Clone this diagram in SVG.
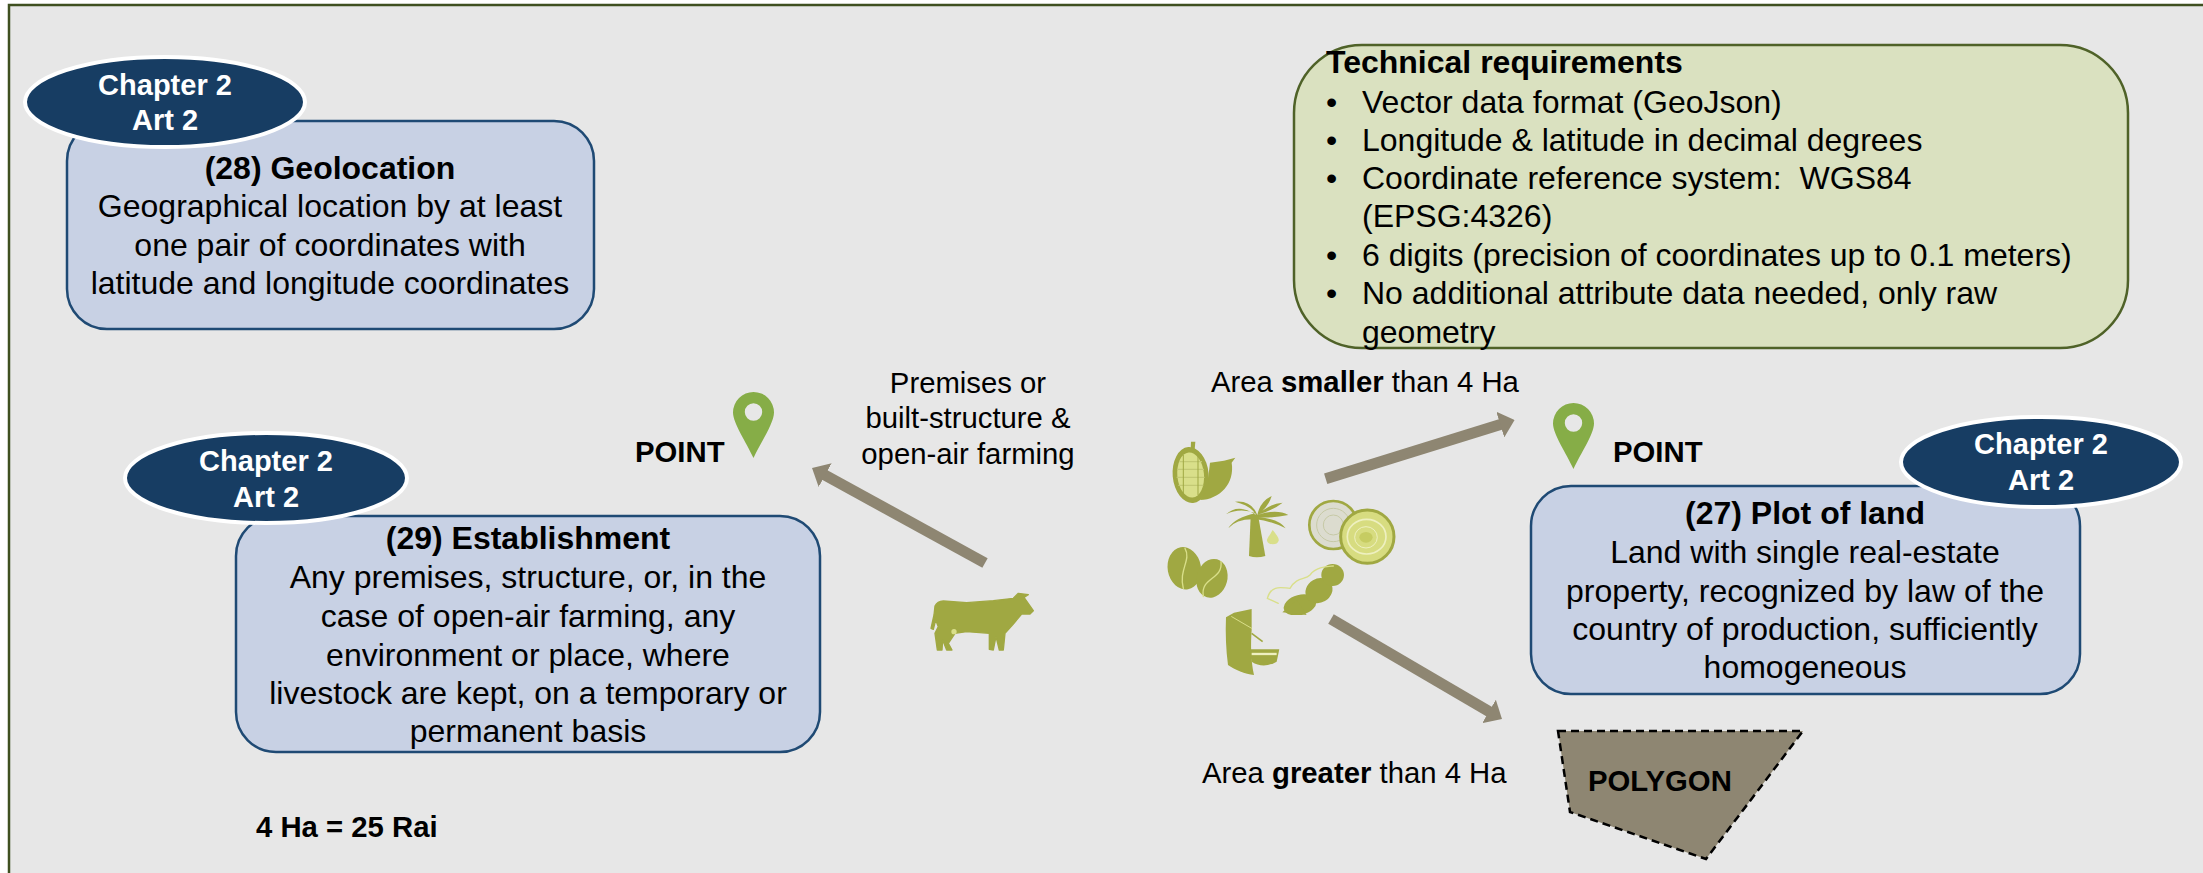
<svg xmlns="http://www.w3.org/2000/svg" width="2203" height="873" viewBox="0 0 2203 873">
<style>
text{font-family:"Liberation Sans",Arial,sans-serif;fill:#000}
.t{font-size:32px}
.m{text-anchor:middle}
.b{font-weight:bold}
.l{font-size:29.3px}
.e{font-size:29px;font-weight:bold;fill:#fff;text-anchor:middle}
.box{fill:#c8d1e4;stroke:#1f4a74;stroke-width:2.5}
.oval{fill:#173d63;stroke:#fff;stroke-width:4}
.ol{fill:#a0a842}
.li{fill:#d9df8a}
.ls{fill:none;stroke:#d9df8a;stroke-width:4;stroke-linecap:round}
.arrow{stroke:#8e8672;stroke-width:11;fill:none;marker-end:url(#head)}
</style>
<defs>
<marker id="head" viewBox="0 0 15 27" refX="1" refY="13.5" markerUnits="userSpaceOnUse" markerWidth="15" markerHeight="27" orient="auto"><path d="M0,0L15,13.5L0,27Z" fill="#8e8672"/></marker>
<path id="pin" fill="#86ad47" fill-rule="evenodd" d="M0,20.5A20.5,20.5 0 0 1 41,20.5C41,31 28,50 20.5,66C13,50 0,31 0,20.5ZM29.2,20A8.7,8.7 0 1 0 11.8,20A8.7,8.7 0 1 0 29.2,20Z"/>
<clipPath id="soyclip"><rect x="430" y="420" width="242" height="165"/></clipPath>
</defs>
<rect x="9" y="5" width="2200" height="873" fill="#e7e7e7" stroke="#3f5020" stroke-width="2.5"/>

<g id="connectors">
<line class="arrow" x1="985" y1="563" x2="824.3" y2="474.7"/>
<line class="arrow" x1="1325.7" y1="478.7" x2="1501.2" y2="424.2"/>
<line class="arrow" x1="1331" y1="619" x2="1489.9" y2="711.9"/>
</g>

<g id="node-geolocation">
<rect class="box" x="67" y="121" width="527" height="208" rx="40"/>
<ellipse class="oval" cx="165" cy="102" rx="140" ry="45"/>
<text class="e" x="165" y="95">Chapter 2</text>
<text class="e" x="165" y="130">Art 2</text>
<text class="t m b" x="330" y="179">(28) Geolocation</text>
<text class="t m" x="330" y="217">Geographical location by at least</text>
<text class="t m" x="330" y="256">one pair of coordinates with</text>
<text class="t m" x="330" y="294">latitude and longitude coordinates</text>
</g>

<g id="node-establishment">
<rect class="box" x="236" y="516" width="584" height="236" rx="40"/>
<ellipse class="oval" cx="266" cy="478" rx="141" ry="45"/>
<text class="e" x="266" y="471">Chapter 2</text>
<text class="e" x="266" y="507">Art 2</text>
<text class="t m b" x="528" y="549">(29) Establishment</text>
<text class="t m" x="528" y="588">Any premises, structure, or, in the</text>
<text class="t m" x="528" y="627">case of open-air farming, any</text>
<text class="t m" x="528" y="666">environment or place, where</text>
<text class="t m" x="528" y="704">livestock are kept, on a temporary or</text>
<text class="t m" x="528" y="742">permanent basis</text>
</g>

<g id="node-plot">
<rect class="box" x="1531" y="486" width="549" height="208" rx="40"/>
<ellipse class="oval" cx="2041" cy="462" rx="140" ry="45"/>
<text class="e" x="2041" y="454">Chapter 2</text>
<text class="e" x="2041" y="490">Art 2</text>
<text class="t m b" x="1805" y="524">(27) Plot of land</text>
<text class="t m" x="1805" y="563">Land with single real-estate</text>
<text class="t m" x="1805" y="602">property, recognized by law of the</text>
<text class="t m" x="1805" y="640">country of production, sufficiently</text>
<text class="t m" x="1805" y="678">homogeneous</text>
</g>

<g id="node-technical">
<rect x="1294" y="45" width="834" height="303" rx="68" fill="#dae1c0" stroke="#4f6228" stroke-width="2.5"/>
<text class="t b" x="1326" y="73">Technical requirements</text>
<text class="t" x="1326" y="113">•</text><text class="t" x="1362" y="113">Vector data format (GeoJson)</text>
<text class="t" x="1326" y="151">•</text><text class="t" x="1362" y="151">Longitude &amp; latitude in decimal degrees</text>
<text class="t" x="1326" y="189">•</text><text class="t" x="1362" y="189" xml:space="preserve">Coordinate reference system:  WGS84</text>
<text class="t" x="1362" y="227">(EPSG:4326)</text>
<text class="t" x="1326" y="266">•</text><text class="t" x="1362" y="266">6 digits (precision of coordinates up to 0.1 meters)</text>
<text class="t" x="1326" y="304">•</text><text class="t" x="1362" y="304">No additional attribute data needed, only raw</text>
<text class="t" x="1362" y="343">geometry</text>
</g>

<g id="node-point-left">
<use href="#pin" x="733" y="392"/>
<text class="l b" x="635" y="462">POINT</text>
</g>
<g id="node-point-right">
<use href="#pin" x="1553" y="403"/>
<text class="l b" x="1613" y="462">POINT</text>
</g>
<g id="node-polygon">
<polygon points="1558,731 1803,731 1706,859 1570,812" fill="#8e8672" stroke="#000" stroke-width="2.5" stroke-dasharray="8 5"/>
<text class="l b" x="1588" y="791">POLYGON</text>
</g>

<g id="labels">
<text class="l m" x="968" y="393">Premises or</text>
<text class="l m" x="968" y="428">built-structure &amp;</text>
<text class="l m" x="968" y="464">open-air farming</text>
<text class="l" x="1211" y="392">Area <tspan class="b">smaller</tspan> than 4 Ha</text>
<text class="l" x="1202" y="783">Area <tspan class="b">greater</tspan> than 4 Ha</text>
<text class="l b" x="256" y="837">4 Ha = 25 Rai</text>
</g>

<g id="icon-cow" transform="translate(880,520) scale(.3333)">
<path class="ol" stroke="#a0a842" stroke-width="4" stroke-linejoin="round" d="M153,325L162,285L165,258Q172,244 190,243L260,248L340,242L400,235L415,220L445,224L432,232L460,272L450,282L425,282L400,312L375,340L370,390L358,390L348,350L340,390L328,388L328,340L260,335L225,340L205,370L216,390L200,390L188,360L186,390L172,390L165,340L175,320L167,300L160,328Z"/>
<circle class="li" cx="222" cy="335" r="8"/>
</g>

<g id="icon-crops" transform="translate(1120,420) scale(.3333)">
<path class="ol" d="M213,65L226,65L224,90L212,90Z"/>
<path class="ol" d="M240,240C300,238 345,190 335,128L346,113L312,122L270,128C265,170 262,210 240,240Z"/>
<ellipse class="ol" cx="212" cy="165" rx="54" ry="84" transform="rotate(-5 212 165)"/>
<ellipse class="li" cx="212" cy="165" rx="40" ry="68" transform="rotate(-5 212 165)"/>
<path d="M178,125H246M172,148H252M170,172H254M175,196H250" stroke="#c3c974" stroke-width="4" fill="none"/>
<path d="M190,105V225M234,105V225" stroke="#a0a842" stroke-width="3" fill="none"/>

<path class="ol" d="M392,290L387,408Q410,416 436,408L415,290Z"/>
<path class="ol" d="M408,298Q350,295 325,325Q345,292 408,280Q360,262 318,283Q355,248 408,285Q395,258 345,245Q395,240 412,285Q420,245 455,228Q445,262 412,285Q450,250 488,248Q460,270 412,285Q470,265 505,285Q460,295 412,292Q475,295 497,325Q450,302 408,298Z"/>
<path class="li" d="M458,330C470,345 478,355 476,362A18,14 0 0 1 441,362C440,355 450,345 458,330Z"/>

<ellipse class="ol" cx="193" cy="445" rx="50" ry="64" transform="rotate(-10 193 445)"/>
<path class="ls" d="M195,385C215,420 175,450 190,505"/>
<ellipse class="ol" cx="276" cy="475" rx="46" ry="59" transform="rotate(15 276 475)"/>
<path class="ls" d="M303,425C310,480 240,470 250,530"/>

<circle cx="640" cy="315" r="72" fill="#dcdccf" stroke="#a0a842" stroke-width="8"/>
<circle cx="640" cy="315" r="50" fill="none" stroke="#c6c9a6" stroke-width="3"/>
<circle cx="640" cy="315" r="30" fill="none" stroke="#c6c9a6" stroke-width="3"/>
<circle cx="742" cy="350" r="80" fill="#d7dc80" stroke="#a0a842" stroke-width="9"/>
<ellipse cx="740" cy="350" rx="58" ry="52" fill="none" stroke="#eef0c0" stroke-width="5"/>
<ellipse cx="738" cy="352" rx="34" ry="32" fill="none" stroke="#eef0c0" stroke-width="3"/>
<ellipse cx="738" cy="352" rx="20" ry="16" fill="#c6cc62"/>

<g clip-path="url(#soyclip)">
<ellipse class="ol" cx="540" cy="555" rx="50" ry="30" transform="rotate(-15 540 555)"/>
<ellipse class="ol" cx="597" cy="512" rx="42" ry="36" transform="rotate(-30 597 512)"/>
<ellipse class="ol" cx="638" cy="465" rx="34" ry="33"/>
<path class="ol" d="M487,577L530,540L560,585Z"/>
</g>
<path class="ls" d="M442,535C455,490 490,505 510,505C530,470 555,480 570,465C590,440 620,440 640,438M442,535L475,550"/>

<path class="ol" d="M318,592L342,578L395,567L395,630C392,670 392,720 402,765C375,762 345,750 324,735C318,690 316,640 318,592Z"/>
<path class="ls" d="M335,590L395,625" style="stroke-width:3"/>
<path d="M395,640L428,665" stroke="#a0a842" stroke-width="5" fill="none"/>
<path class="ol" d="M388,688H478L470,725Q430,748 395,725Z"/>
<path d="M395,702H470" stroke="#eef0c0" stroke-width="7" fill="none"/>
</g>
</svg>
